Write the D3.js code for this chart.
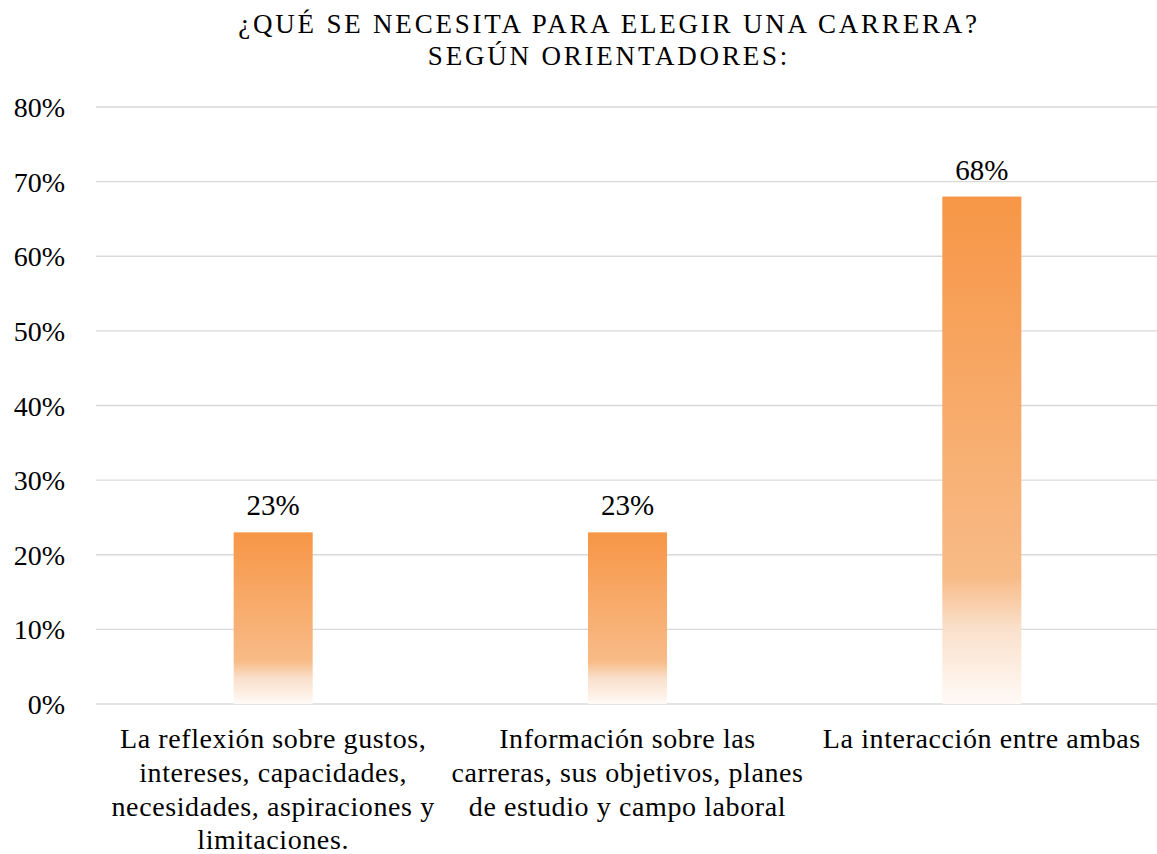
<!DOCTYPE html>
<html>
<head>
<meta charset="utf-8">
<script src="https://cdn.jsdelivr.net/npm/d3@7"></script>
<style>
  body { margin: 0; background: #fff; }
</style>
</head>
<body>
<svg id="chart"></svg>
<script>
const titleLines = ["¿QUÉ SE NECESITA PARA ELEGIR UNA CARRERA?", "SEGÚN ORIENTADORES:"];
const categories = [
  ["La reflexión sobre gustos,", "intereses, capacidades,", "necesidades, aspiraciones y", "limitaciones."],
  ["Información sobre las", "carreras, sus objetivos, planes", "de estudio y campo laboral"],
  ["La interacción entre ambas"]
];
const values = [0.23, 0.23, 0.68];
const yTicks = [0, 0.1, 0.2, 0.3, 0.4, 0.5, 0.6, 0.7, 0.8];

var FONT = '"Liberation Serif", "Times New Roman", Times, serif';
var width = 1157, height = 854;
var margin = { top: 107, right: -2, bottom: 150, left: 96 };

var svg = d3.select('#chart')
  .attr("width", width)
  .attr("height", height);

// gradient like the office fill
var grad = svg.append("defs").append("linearGradient")
  .attr("id", "barGrad")
  .attr("x1", 0).attr("y1", 0).attr("x2", 0).attr("y2", 1);
grad.append("stop").attr("offset", "0%").attr("stop-color", "#f79646");
grad.append("stop").attr("offset", "75%").attr("stop-color", "#f8bb87");
grad.append("stop").attr("offset", "85%").attr("stop-color", "#fae0cb");
grad.append("stop").attr("offset", "100%").attr("stop-color", "#fffaf6");

var x = d3.scaleBand()
  .domain(d3.range(categories.length))
  .range([margin.left, width - margin.right])
  .paddingInner(0.777).paddingOuter(0.3885);

var y = d3.scaleLinear().domain([0, 0.8]).range([height - margin.bottom, margin.top]);

// gridlines
svg.append("g").selectAll("line")
  .data(yTicks)
  .enter().append("line")
  .attr("x1", margin.left).attr("x2", width)
  .attr("y1", d => y(d)).attr("y2", d => y(d))
  .attr("stroke", "#d9d9d9").attr("stroke-width", 1.3);

// y axis labels
var yAxis = d3.axisLeft(y).tickValues(yTicks).tickFormat(d3.format(".0%")).tickSize(0).tickPadding(0);
var yg = svg.append("g")
  .attr("transform", "translate(65,0)")
  .call(yAxis);
yg.select(".domain").remove();
yg.selectAll("text")
  .style("font-family", FONT)
  .style("font-size", "28px")
  .attr("fill", "#000")
  .attr("dy", "0.34em");

// bars
svg.selectAll(".bar")
  .data(values)
  .enter().append("rect")
  .attr("class", "bar")
  .attr("x", (d, i) => x(i))
  .attr("y", d => y(d))
  .attr("width", x.bandwidth())
  .attr("height", d => y(0) - y(d))
  .attr("fill", "url(#barGrad)");

// data labels
svg.selectAll(".label")
  .data(values)
  .enter().append("text")
  .attr("class", "label")
  .attr("x", (d, i) => x(i) + x.bandwidth() / 2)
  .attr("y", d => y(d))
  .attr("dy", "-17")
  .attr("text-anchor", "middle")
  .style("font-family", FONT)
  .style("font-size", "29px")
  .text(d => d3.format(".0%")(d));

// category labels
var cat = svg.append("g").selectAll("text")
  .data(categories)
  .enter().append("text")
  .attr("text-anchor", "middle")
  .style("font-family", FONT)
  .style("font-size", "28px")
  .style("letter-spacing", "0.6px")
  .attr("x", (d, i) => x(i) + x.bandwidth() / 2)
  .attr("y", 748);
cat.selectAll("tspan")
  .data(d => d)
  .enter().append("tspan")
  .attr("x", function () { return this.parentNode.getAttribute("x"); })
  .attr("dy", (d, i) => i == 0 ? 0 : 33.8)
  .text(d => d);

// title
svg.append("g").selectAll("text")
  .data(titleLines)
  .enter().append("text")
  .attr("x", 609)
  .attr("y", (d, i) => 33 + i * 32)
  .attr("text-anchor", "middle")
  .style("font-family", FONT)
  .style("font-size", "27px")
  .style("letter-spacing", "2.8px")
  .text(d => d);
</script>
</body>
</html>
